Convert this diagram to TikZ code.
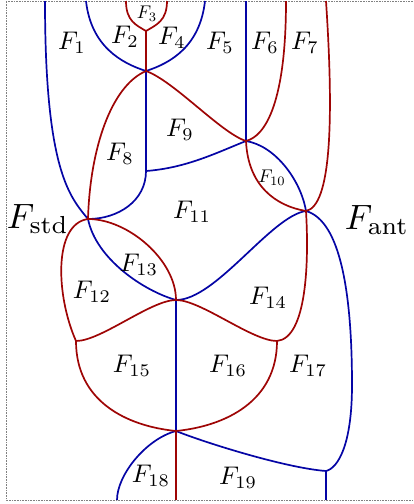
\documentclass[tikz,border=0pt]{standalone}
\usepackage{xcolor}
\usepackage{tikz}
\definecolor{stdblue}{HTML}{0505A5}
\definecolor{antred}{HTML}{9E0505}

\begin{document}
\begin{tikzpicture}[
  x=1pt, y=-1pt,
  bline/.style={draw=stdblue, line width=1.7pt},
  rline/.style={draw=antred, line width=1.7pt},
  face/.style={inner sep=0pt, scale=2.55},
  smallface/.style={face, scale=0.72},
  bigface/.style={face, scale=1.38},
  frame/.style={draw=gray, densely dotted, line width=0.6pt}
]
  \useasboundingbox (0,0) rectangle (413,504);
  \draw[frame] (413,1) -- (6,1) -- (6,500) -- (413,500);

  \coordinate (t3) at (146,31);
  \coordinate (a) at (146,71);
  \coordinate (b) at (146,171);
  \coordinate (c) at (246,141);
  \coordinate (d) at (88,219);
  \coordinate (e) at (176,300);
  \coordinate (g) at (306,211);
  \coordinate (i) at (76,341);
  \coordinate (j) at (277,341);
  \coordinate (h) at (176,431);
  \coordinate (k) at (326,471);
  \coordinate (gr) at (352,385);
  \coordinate (tb1) at (45,1);
  \coordinate (tb2) at (86,1);
  \coordinate (tb3) at (205,1);
  \coordinate (tb4) at (246,1);
  \coordinate (tr1) at (126,1);
  \coordinate (tr2) at (167,1);
  \coordinate (tr3) at (286,1);
  \coordinate (tr4) at (326,1);
  \coordinate (bb1) at (117,500);
  \coordinate (br1) at (176,500);
  \coordinate (bb2) at (326,500);

  \draw[bline] (tb1) .. controls +(0,170) and +(-18,-22) .. (d) .. controls +(8,40) and +(-32,-9) .. (e);
  \draw[bline] (tb2) .. controls +(5,45) and +(-25,-8) .. (a) .. controls +(25,-8) and +(-5,45) .. (tb3);
  \draw[bline] (a) -- (b);
  \draw[bline] (b) .. controls +(40,-3) and +(-30,12) .. (c);
  \draw[bline] (b) .. controls +(0,30) and +(30,0) .. (d);
  \draw[bline] (tb4) -- (c);
  \draw[bline] (c) .. controls +(30,5) and +(-5,-30) .. (g);
  \draw[bline] (e) .. controls +(40,0) and +(-35,5) .. (g) .. controls +(35,10) and +(0,-90) .. (gr) .. controls +(0,60) and +(12,-3) .. (k);
  \draw[bline] (e) -- (h);
  \draw[bline] (h) .. controls +(30,12) and +(-40,-3) .. (k);
  \draw[bline] (k) -- (bb2);
  \draw[bline] (h) .. controls +(-30,8) and +(0,-25) .. (bb1);

  \draw[rline] (tr1) .. controls +(0,20) and +(-10,-6) .. (t3) .. controls +(10,-6) and +(0,20) .. (tr2);
  \draw[rline] (t3) -- (a);
  \draw[rline] (a) .. controls +(28,10) and +(-25,-8) .. (c);
  \draw[rline] (a) .. controls +(-35,15) and +(2,-70) .. (d);
  \draw[rline] (tr3) .. controls +(0,100) and +(20,-5) .. (c);
  \draw[rline] (c) .. controls +(2,45) and +(-30,-5) .. (g);
  \draw[rline] (tr4) .. controls +(8,120) and +(25,-5) .. (g);
  \draw[rline] (d) .. controls +(40,0) and +(0,-40) .. (e);
  \draw[rline] (d) .. controls +(-35,5) and +(-20,-45) .. (i);
  \draw[rline] (i) .. controls +(25,0) and +(-25,0) .. (e) .. controls +(25,0) and +(-25,0) .. (j);
  \draw[rline] (j) .. controls +(30,-3) and +(3,50) .. (g);
  \draw[rline] (i) .. controls +(0,60) and +(-50,-5) .. (h);
  \draw[rline] (j) .. controls +(0,60) and +(50,-5) .. (h);
  \draw[rline] (h) -- (br1);

  \node[face] (f1) at (72,43) {$F_1$};
  \node[face] (f2) at (125,37) {$F_2$};
  \node[smallface] (f3) at (147,14) {$F_3$};
  \node[face] (f4) at (172,38) {$F_4$};
  \node[face] (f5) at (220,43) {$F_5$};
  \node[face] (f6) at (265,43) {$F_6$};
  \node[face] (f7) at (305,43) {$F_7$};
  \node[face] (f8) at (120,154) {$F_8$};
  \node[face] (f9) at (180,130) {$F_9$};
  \node[smallface] (f10) at (272,178) {$F_{10}$};
  \node[face] (f11) at (192,212) {$F_{11}$};
  \node[face] (f12) at (92,292) {$F_{12}$};
  \node[face] (f13) at (139,265) {$F_{13}$};
  \node[face] (f14) at (268,298) {$F_{14}$};
  \node[face] (f15) at (132,366) {$F_{15}$};
  \node[face] (f16) at (228,366) {$F_{16}$};
  \node[face] (f17) at (308,366) {$F_{17}$};
  \node[face] (f18) at (151,476) {$F_{18}$};
  \node[face] (f19) at (238,478) {$F_{19}$};
  \node[bigface] (fstd) at (38,219) {$F_{\mathrm{std}}$};
  \node[bigface] (fant) at (377,220) {$F_{\mathrm{ant}}$};
\end{tikzpicture}
\end{document}
